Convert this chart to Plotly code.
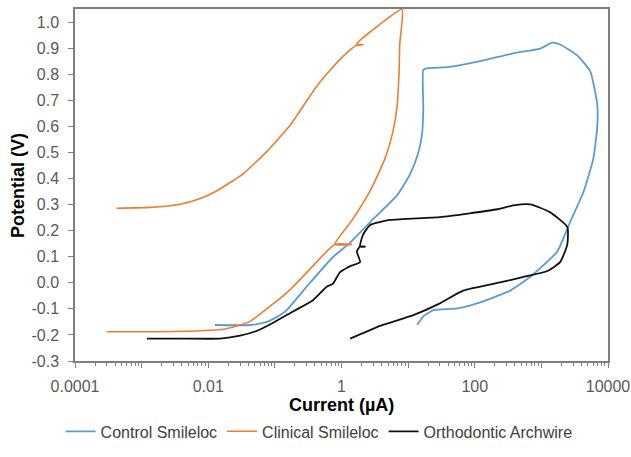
import plotly.graph_objects as go

# Control Smileloc (current in µA, potential in V)
control_current = [0.0126, 0.043, 0.076, 0.12, 0.15, 0.30, 0.74, 1.35, 2.7, 6.8,
                   10.7, 14.1, 16.2, 16.9, 16.9, 19.4, 38.6, 121, 378, 960,
                   1450, 1910, 3450, 5400, 6900, 6900, 6000, 4250, 2700, 1730,
                   680, 340, 134, 55, 24, 17, 13.7]
control_potential = [-0.162, -0.162, -0.150, -0.124, -0.105, -0.015, 0.098, 0.154, 0.233, 0.335,
                     0.417, 0.496, 0.571, 0.673, 0.816, 0.823, 0.827, 0.850, 0.880, 0.898,
                     0.921, 0.914, 0.872, 0.812, 0.684, 0.598, 0.474, 0.346, 0.233, 0.120,
                     0.023, -0.030, -0.071, -0.098, -0.105, -0.128, -0.162]

# Clinical Smileloc
clinical_current = [3.0e-4, 1.35e-3, 7.6e-3, 0.0178, 0.030, 0.043, 0.085, 0.17, 0.37, 0.79,
                    1.45, 0.79, 1.48, 2.7, 4.5, 5.9, 6.8, 7.3, 7.5, 8.1,
                    3.8, 1.7, 2.1, 1.65, 1.05, 0.68, 0.43, 0.27, 0.17, 0.076,
                    0.033, 0.0135, 7.6e-3, 3.8e-3, 1.35e-3, 4.2e-4]
clinical_potential = [-0.188, -0.188, -0.184, -0.177, -0.162, -0.147, -0.090, -0.026, 0.064, 0.147,
                      0.147, 0.147, 0.244, 0.353, 0.477, 0.579, 0.673, 0.805, 0.917, 1.049,
                      0.992, 0.917, 0.913, 0.910, 0.868, 0.816, 0.756, 0.680, 0.605, 0.504,
                      0.417, 0.353, 0.323, 0.301, 0.289, 0.286]

# Orthodontic Archwire
archwire_current = [1.2e-3, 3.8e-3, 0.015, 0.030, 0.054, 0.093, 0.19, 0.37, 0.60, 0.74,
                    0.95, 1.26, 1.35, 1.9, 1.7, 1.9, 2.3, 1.9, 2.1, 2.7,
                    5.4, 30, 219, 378, 680, 1340, 2450, 2450, 1910, 1230,
                    540, 270, 67, 30, 12, 3.8, 1.35]
archwire_potential = [-0.214, -0.214, -0.214, -0.203, -0.184, -0.154, -0.109, -0.068, -0.015, -0.004,
                      0.041, 0.060, 0.064, 0.079, 0.120, 0.139, 0.139, 0.139, 0.184, 0.222,
                      0.241, 0.252, 0.282, 0.297, 0.301, 0.271, 0.214, 0.147, 0.079, 0.045,
                      0.023, 0.004, -0.030, -0.079, -0.124, -0.165, -0.214]

x_tick_vals = [1e-4, 1e-3, 1e-2, 1e-1, 1, 10, 100, 1000, 10000]
x_tick_text = ["0.0001", "", "0.01", "", "1", "", "100", "", "10000"]
y_tick_vals = [-0.3, -0.2, -0.1, 0.0, 0.1, 0.2, 0.3, 0.4, 0.5, 0.6, 0.7, 0.8, 0.9, 1.0]
y_tick_text = ["-0.3", "-0.2", "-0.1", "0.0", "0.1", "0.2", "0.3", "0.4", "0.5", "0.6", "0.7", "0.8", "0.9", "1.0"]

minor_vals = [m * 10.0 ** e for e in range(-4, 4) for m in range(2, 10)]

line_kw = dict(shape="spline", smoothing=0.5)
fig = go.Figure()
fig.add_trace(go.Scatter(x=control_current, y=control_potential, mode="lines",
                         name="Control Smileloc", line=dict(color="#5B9BD5", width=1.8, **line_kw)))
fig.add_trace(go.Scatter(x=clinical_current, y=clinical_potential, mode="lines",
                         name="Clinical Smileloc", line=dict(color="#ED7D31", width=1.6, **line_kw)))
fig.add_trace(go.Scatter(x=archwire_current, y=archwire_potential, mode="lines",
                         name="Orthodontic Archwire", line=dict(color="#111111", width=1.8, **line_kw)))

axis_col = "#7f7f7f"
fig.update_layout(
    width=631, height=457,
    margin=dict(l=75, r=23, t=9, b=88),
    paper_bgcolor="white", plot_bgcolor="white",
    font=dict(family="Liberation Sans, Arial, sans-serif", size=16, color="#595959"),
    legend=dict(orientation="h", x=0.458, xanchor="center", y=-0.2, yanchor="middle",
                font=dict(size=16, color="#404040"), itemwidth=30, tracegroupgap=0),
    xaxis=dict(
        type="log", range=[-4, 4], tickmode="array", tickvals=x_tick_vals, ticktext=x_tick_text,
        ticks="outside", ticklen=5, tickcolor=axis_col, showline=True, linecolor=axis_col,
        linewidth=1.5, mirror=True, showgrid=False, zeroline=False, automargin=False,
        ticklabelstandoff=5,
        minor=dict(tickmode="array", tickvals=minor_vals, ticks="outside", ticklen=3,
                   tickcolor=axis_col, showgrid=False),
    ),
    yaxis=dict(
        range=[-0.3, 1.05], tickmode="array", tickvals=y_tick_vals, ticktext=y_tick_text,
        ticks="outside", ticklen=5, tickcolor=axis_col, showline=True, linecolor=axis_col,
        linewidth=1.5, mirror=True, showgrid=False, zeroline=False, automargin=False,
        ticklabelstandoff=6,
    ),
    annotations=[
        dict(text="<b>Current (µA)</b>", xref="paper", yref="paper", x=0.5, y=-0.125,
             xanchor="center", yanchor="middle", showarrow=False,
             font=dict(size=18, color="#000000")),
        dict(text="<b>Potential (V)</b>", xref="paper", yref="paper", x=-0.107, y=0.5,
             xanchor="center", yanchor="middle", textangle=-90, showarrow=False,
             font=dict(size=18, color="#000000")),
    ],
)

fig.write_html("out.html", config={"displayModeBar": False},
               post_script="document.body.style.margin='0';document.body.style.overflow='hidden';")
